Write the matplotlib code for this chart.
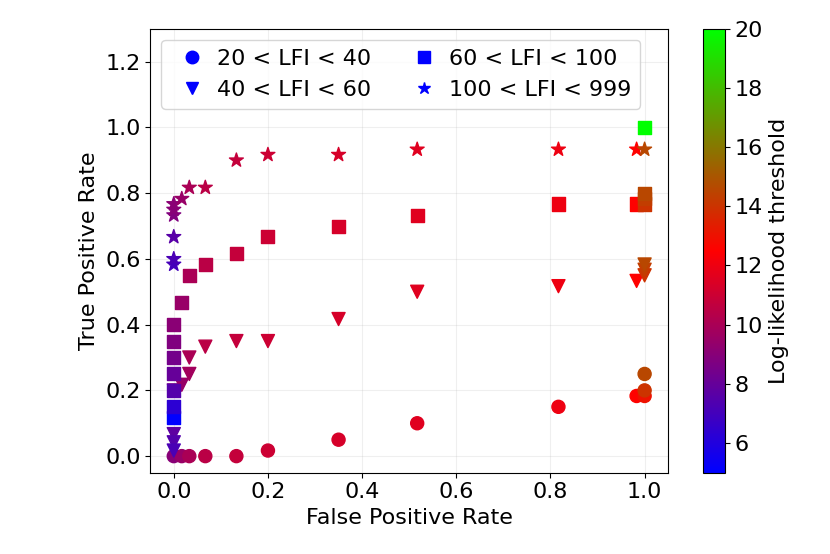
import matplotlib
matplotlib.use("Agg")
import matplotlib.pyplot as plt
from matplotlib.lines import Line2D
import numpy as np

# 20 < LFI < 40
fpr_20_40 = [0, 0.017, 0.033, 0.067, 0.133, 0.2, 0.35, 0.517, 0.817, 0.983, 1.0, 1.0, 1.0]
tpr_20_40 = [0, 0, 0, 0, 0, 0.017, 0.05, 0.1, 0.15, 0.183, 0.183, 0.2, 0.25]
thr_20_40 = [9.0, 9.5, 10.0, 10.5, 10.8, 11.0, 11.3, 11.6, 12.0, 12.5, 13.0, 14.0, 14.6]

# 40 < LFI < 60
fpr_40_60 = [0, 0, 0, 0, 0.017, 0.033, 0.033, 0.067, 0.133, 0.2, 0.35, 0.517, 0.817, 0.983, 1.0, 1.0, 1.0]
tpr_40_60 = [0.2, 0.067, 0.042, 0.017, 0.217, 0.25, 0.3, 0.333, 0.35, 0.35, 0.417, 0.5, 0.517, 0.533, 0.55, 0.567, 0.583]
thr_40_60 = [8.5, 7.8, 7.5, 7.2, 9.5, 9.8, 10.0, 10.5, 10.8, 11.0, 11.3, 11.6, 12.0, 12.5, 14.0, 14.3, 14.6]

# 60 < LFI < 100
fpr_60_100 = [0, 0, 0, 0, 0, 0, 0, 0.017, 0.033, 0.067, 0.133, 0.2, 0.35, 0.517, 0.817, 0.983, 1.0, 1.0, 1.0, 1.0]
tpr_60_100 = [0.117, 0.15, 0.2, 0.25, 0.3, 0.35, 0.4, 0.467, 0.55, 0.583, 0.617, 0.667, 0.7, 0.733, 0.767, 0.767, 0.767, 0.783, 0.8, 1.0]
thr_60_100 = [5.0, 6.3, 7.5, 8.0, 8.4, 8.8, 9.1, 9.5, 10.0, 10.5, 10.8, 11.0, 11.3, 11.6, 12.0, 12.5, 14.0, 14.3, 14.6, 20.0]

# 100 < LFI < 999
fpr_100_999 = [0, 0, 0, 0, 0, 0, 0.017, 0.033, 0.067, 0.133, 0.2, 0.35, 0.517, 0.817, 0.983, 1.0]
tpr_100_999 = [0.583, 0.6, 0.667, 0.733, 0.75, 0.767, 0.783, 0.817, 0.817, 0.9, 0.917, 0.917, 0.933, 0.933, 0.933, 0.933]
thr_100_999 = [7.0, 7.2, 7.6, 8.8, 9.0, 9.1, 9.5, 10.0, 10.5, 10.8, 11.0, 11.3, 11.6, 12.0, 12.5, 14.6]

groups = [
    ("20 < LFI < 40", "o", fpr_20_40, tpr_20_40, thr_20_40),
    ("40 < LFI < 60", "v", fpr_40_60, tpr_40_60, thr_40_60),
    ("60 < LFI < 100", "s", fpr_60_100, tpr_60_100, thr_60_100),
    ("100 < LFI < 999", "*", fpr_100_999, tpr_100_999, thr_100_999),
]


def main():
    plt.rcParams['font.size'] = 16
    cmap = plt.get_cmap('brg')
    fig = plt.figure(figsize=(8.3, 5.54), dpi=100)
    ax = fig.add_axes([0.181, 0.147, 0.624, 0.801])
    cax = fig.add_axes([0.8466, 0.147, 0.0269, 0.801])

    for label, marker, fpr, tpr, thr in groups:
        size = 110 if marker == "*" else 88
        sc = ax.scatter(fpr, tpr, c=thr, cmap=cmap, vmin=5, vmax=20,
                        marker=marker, s=size, zorder=3)

    handles = [Line2D([], [], linestyle='none', marker=m, color=cmap(0.0), markersize=9)
               for _, m, _, _, _ in groups]
    ax.legend(handles, [g[0] for g in groups],
              loc='upper left', ncol=2, handletextpad=0.1, columnspacing=1.4)

    ax.set_xlim(-0.05, 1.05)
    ax.set_ylim(-0.05, 1.3)
    ax.set_xticks(np.arange(0, 1.01, 0.2))
    ax.set_yticks(np.arange(0, 1.21, 0.2))
    ax.grid(True, alpha=0.2)
    ax.set_xlabel("False Positive Rate")
    ax.set_ylabel("True Positive Rate")

    cb = fig.colorbar(sc, cax=cax)
    cb.set_label("Log-likelihood threshold")

    fig.savefig("out.png", dpi=100)


if __name__ == "__main__":
    main()
